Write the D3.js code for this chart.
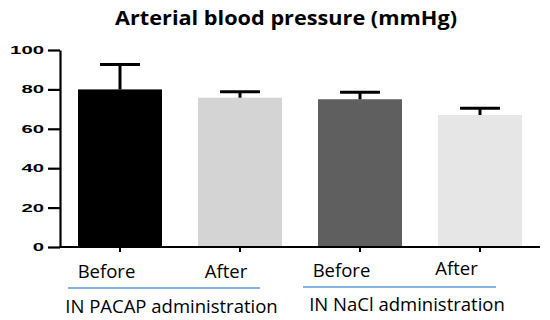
<!DOCTYPE html>
<html><head><meta charset="utf-8">
<script src="https://cdn.jsdelivr.net/npm/d3@7"></script>
<style>body{margin:0;background:#fff}svg{display:block}</style>
</head><body>
<script>
const categories = ["Before", "After", "Before", "After"];
const means = [80, 75.8, 75, 67];
const errors = [12.7, 3, 3.5, 3.4];
const colors = ["#000000", "#d4d4d4", "#5f5f5f", "#e6e6e6"];
const groups = ["IN PACAP administration", "IN NaCl administration"];
const yTicks = [0, 20, 40, 60, 80, 100];
const title = "Arterial blood pressure (mmHg)";

const W = 550, H = 320;
const svg = d3.select("body").append("svg").attr("width", W).attr("height", H);
const x = d3.scaleBand().domain(d3.range(categories.length)).range([60, 540]).paddingInner(0.3).paddingOuter(0.15);
const y = d3.scaleLinear().domain([0, 100]).range([247, 50]);

svg.append("text").attr("x", 286).attr("y", 25).attr("text-anchor", "middle")
  .attr("font-family", "Open Sans, Liberation Sans, sans-serif").attr("font-weight", "bold")
  .attr("font-size", 19).attr("fill", "#000")
  .attr("textLength", 342).attr("lengthAdjust", "spacingAndGlyphs").text(title);

// bars
svg.selectAll("rect.bar").data(means).join("rect").attr("class", "bar")
  .attr("x", (d, i) => x(i)).attr("width", x.bandwidth())
  .attr("y", d => y(d)).attr("height", d => y(0) - y(d))
  .attr("fill", (d, i) => colors[i]);

// error bars (upper only)
const cx = i => x(i) + x.bandwidth() / 2;
const eb = svg.selectAll("g.eb").data(means).join("g").attr("class", "eb");
eb.append("line").attr("x1", (d, i) => cx(i)).attr("x2", (d, i) => cx(i))
  .attr("y1", d => y(d)).attr("y2", (d, i) => y(d + errors[i])).attr("stroke", "#000").attr("stroke-width", 3);
eb.append("line").attr("x1", (d, i) => cx(i) - 20).attr("x2", (d, i) => cx(i) + 20)
  .attr("y1", (d, i) => y(d + errors[i])).attr("y2", (d, i) => y(d + errors[i])).attr("stroke", "#000").attr("stroke-width", 3);

// y axis
const yAxis = svg.append("g").attr("transform", "translate(60,0)")
  .call(d3.axisLeft(y).tickValues(yTicks).tickSize(12).tickSizeOuter(0).tickPadding(4));
yAxis.select(".domain").attr("stroke", "#000").attr("stroke-width", 2.2);
yAxis.selectAll(".tick line").attr("stroke", "#000").attr("stroke-width", 2.2);
yAxis.selectAll(".tick text").attr("font-family", "Liberation Sans, Arial, sans-serif").attr("font-weight", "bold")
  .attr("font-size", 11).attr("fill", "#000")
  .attr("textLength", d => String(d).length * 11.3).attr("lengthAdjust", "spacingAndGlyphs");

// x axis
const xAxis = svg.append("g").attr("transform", "translate(0,247)")
  .call(d3.axisBottom(x).tickSize(4).tickSizeOuter(0).tickFormat(""));
xAxis.select(".domain").attr("stroke", "#000").attr("stroke-width", 2.2).attr("d", "M59,0H540");
xAxis.selectAll(".tick line").attr("stroke", "#000").attr("stroke-width", 2).attr("y1", 1).attr("y2", 5);

// category labels
const labY = [278, 278, 277, 275];
const labDx = [-13.5, -14, -18.5, -23.5];
svg.selectAll("text.cat").data(categories).join("text").attr("class", "cat")
  .attr("x", (d, i) => cx(i) + labDx[i]).attr("y", (d, i) => labY[i])
  .attr("text-anchor", "middle").attr("font-family", "Open Sans, sans-serif").attr("font-size", 18.5).attr("fill", "#000")
  .text(d => d);

// group lines and labels
const gx = [[68, 260], [303, 496]];
const gly = [288, 287];
svg.selectAll("line.gl").data(groups).join("line").attr("class", "gl")
  .attr("x1", (d, i) => gx[i][0]).attr("x2", (d, i) => gx[i][1]).attr("y1", (d, i) => gly[i]).attr("y2", (d, i) => gly[i])
  .attr("stroke", "#5b9bd5").attr("stroke-width", 1.5);
const gtx = [171.5, 407], gty = [313, 311];
svg.selectAll("text.grp").data(groups).join("text").attr("class", "grp")
  .attr("x", (d, i) => gtx[i]).attr("y", (d, i) => gty[i]).attr("text-anchor", "middle")
  .attr("font-family", "Open Sans, sans-serif").attr("font-size", 18.5).attr("fill", "#000").text(d => d);
</script>
</body></html>
